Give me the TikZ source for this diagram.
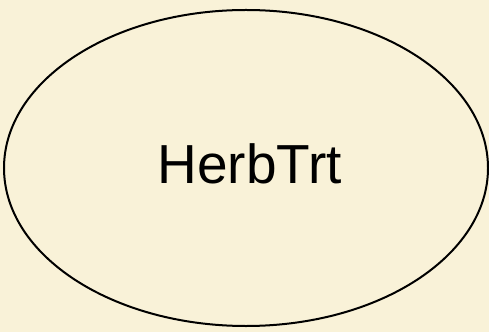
\documentclass[tikz,border=0pt]{standalone}
\usepackage{fontspec}
\setmainfont{Liberation Sans}
\usetikzlibrary{shapes.geometric}
\definecolor{paper}{RGB}{249,242,216}
\begin{document}
\begin{tikzpicture}[
  x=1pt, y=1pt,
  every node/.style={font=\fontsize{55}{60}\selectfont},
  var/.style={
    draw,
    ellipse,
    line width=2pt,
    inner sep=0pt,
    text depth=8pt,
    text width=192pt,
    align=right,
    minimum width=484pt,
    minimum height=316pt
  }
]
\fill[paper] (0,0) rectangle (489,332);
\useasboundingbox (0,0) rectangle (489,332);
\node[var] (herb) at (246,164) {HerbTrt};
\end{tikzpicture}
\end{document}
